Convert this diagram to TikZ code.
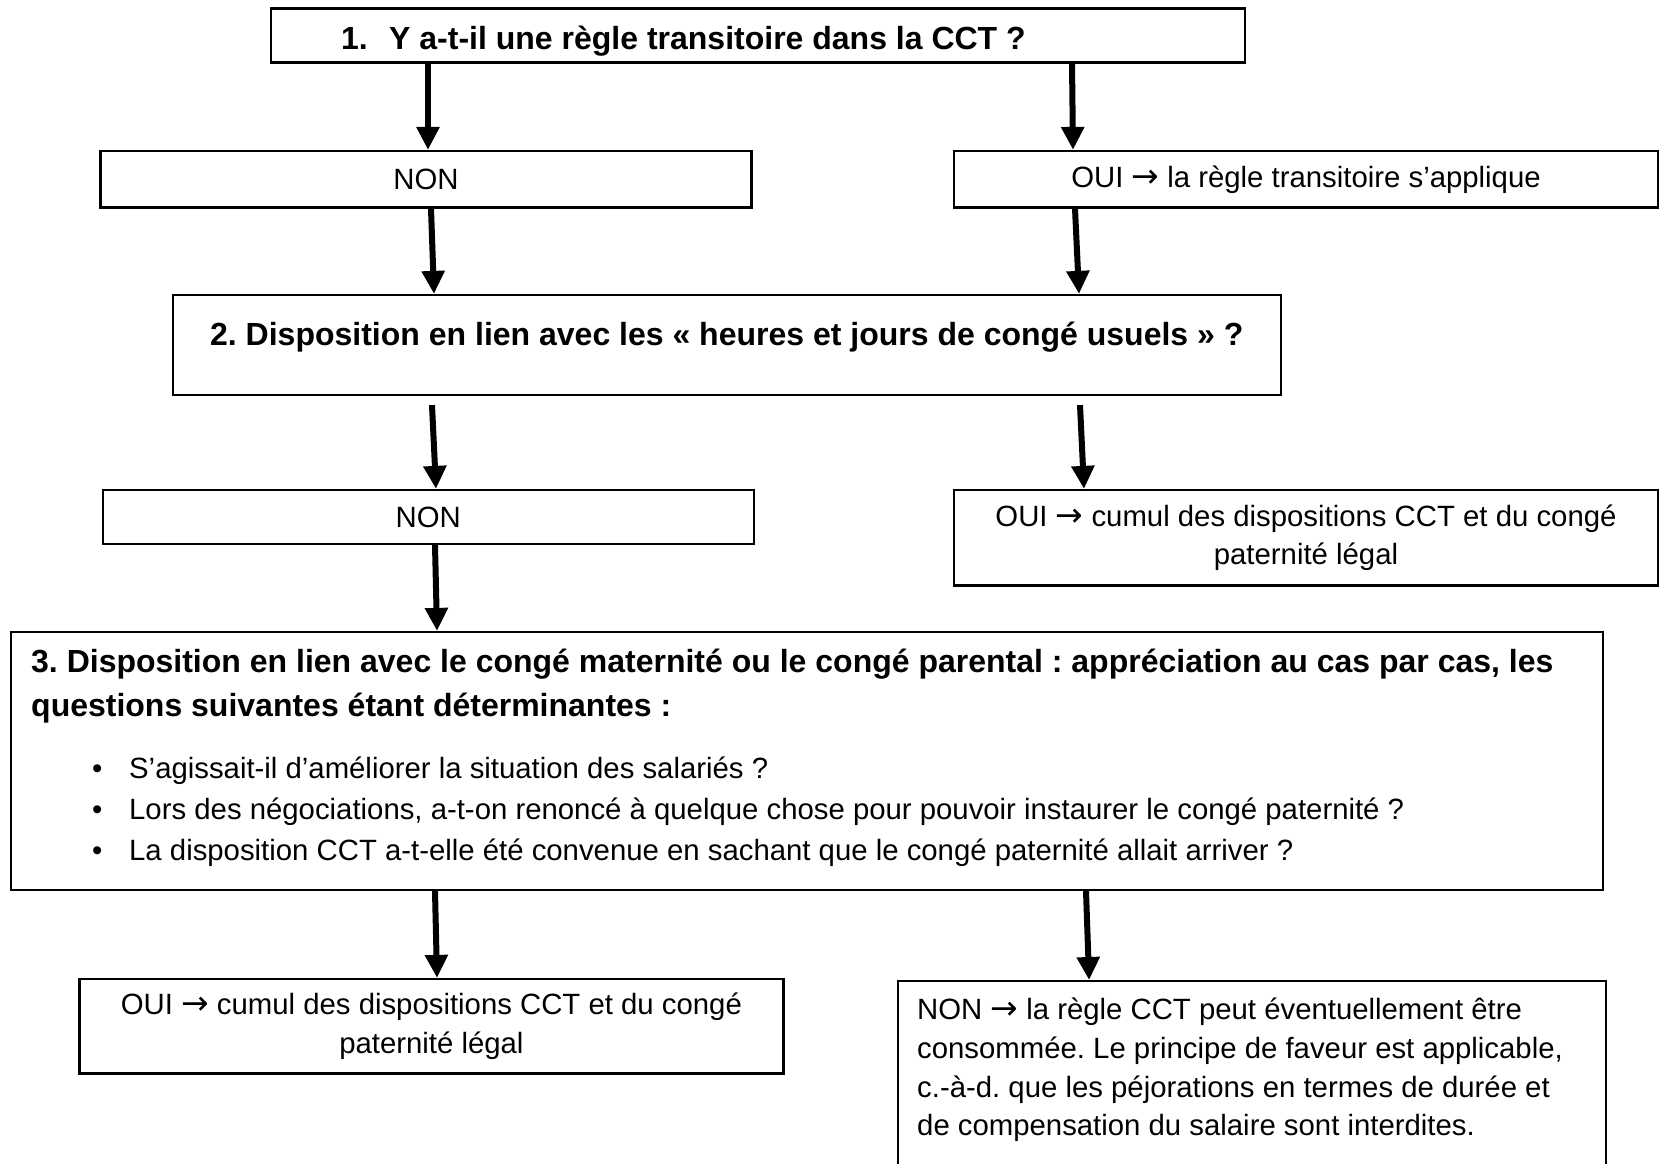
\documentclass[tikz,border=0pt]{standalone}
\usepackage{fontspec}
\setmainfont{Liberation Sans}
\newfontfamily\arrfont{DejaVu Sans}
\newcommand{\rarr}{{\arrfont\fontsize{33}{38.8}\selectfont →}}
\usetikzlibrary{arrows.meta}
\begin{document}
\frenchspacing
\begin{tikzpicture}[x=1pt,y=-1pt,
  box/.style={draw=black, line width=2.2pt, rectangle, inner sep=0pt},
  arr/.style={line width=6pt, -{Triangle[width=22pt,length=23pt]}},
  reg/.style={font=\fontsize{29.33}{38.8}\selectfont, inner sep=0pt},
  bld/.style={font=\fontsize{32}{43.3}\selectfont\bfseries, inner sep=0pt}]
\useasboundingbox (0,0) rectangle (1660,1163);
\fill[white] (0,0) rectangle (1660,1163);
\begin{scope}
\clip (0,0) rectangle (1660,1163);
% boxes
\node[box, minimum width=974pt, minimum height=54pt] (b1) at (758,35.5) {};
\node[bld, anchor=base west] (t1) at (341,49) {\makebox[48pt][l]{1.}Y a-t-il une règle transitoire dans la CCT ?};
\node[box, reg, minimum width=651pt, minimum height=56.5pt] (n1) at (426,179.25) {NON};
\node[box, reg, minimum width=704pt, minimum height=56.5pt] (o1) at (1306,179.25) {OUI \rarr{} la règle transitoire s’applique};
\node[box, minimum width=1108.4pt, minimum height=100pt] (b2) at (726.8,345) {};
\node[bld, anchor=base] (t2) at (726.8,345.5) {2. Disposition en lien avec les «~heures et jours de congé usuels~» ?};
\node[box, reg, minimum width=651pt, minimum height=54pt] (n2) at (428.25,517) {NON};
\node[box, reg, align=center, minimum width=704pt, minimum height=95.5pt] (o2) at (1306,537.75) {OUI \rarr{} cumul des dispositions CCT et du congé\\paternité légal};
\node[box, minimum width=1592.4pt, minimum height=258pt] (b3) at (806.8,761) {};
\node[bld, anchor=base west] (t3a) at (31,672.7) {3. Disposition en lien avec le congé maternité ou le congé parental : appréciation au cas par cas, les};
\node[bld, anchor=base west] (t3b) at (31,716) {questions suivantes étant déterminantes :};
\node[reg, anchor=base west] (q1) at (92,778) {\makebox[37pt][l]{•}S’agissait-il d’améliorer la situation des salariés ?};
\node[reg, anchor=base west] (q2) at (92,819.5) {\makebox[37pt][l]{•}Lors des négociations, a-t-on renoncé à quelque chose pour pouvoir instaurer le congé paternité ?};
\node[reg, anchor=base west] (q3) at (92,860.5) {\makebox[37pt][l]{•}La disposition CCT a-t-elle été convenue en sachant que le congé paternité allait arriver ?};
\node[box, reg, align=center, minimum width=704pt, minimum height=94.5pt] (o3) at (431.4,1026.25) {OUI \rarr{} cumul des dispositions CCT et du congé\\paternité légal};
\node[box, minimum width=708.3pt, minimum height=240pt, anchor=north west] (n3) at (896.7,980) {};
\node[reg, anchor=base west] (r1) at (917,1019.5) {NON \rarr{} la règle CCT peut éventuellement être};
\node[reg, anchor=base west] (r2) at (917,1058.3) {consommée. Le principe de faveur est applicable,};
\node[reg, anchor=base west] (r3) at (917,1097.1) {c.-à-d. que les péjorations en termes de durée et};
\node[reg, anchor=base west] (r4) at (917,1135.9) {de compensation du salaire sont interdites.};
% arrows
\draw[arr] ([xshift=-330pt]b1.south) -- ([xshift=2pt]n1.north);
\draw[arr] ([xshift=314pt]b1.south) -- ([xshift=-233pt]o1.north);
\draw[arr] ([xshift=5pt]n1.south) -- ([xshift=-292.8pt]b2.north);
\draw[arr] ([xshift=-231pt]o1.south) -- ([xshift=352.2pt]b2.north);
\draw[arr] ([shift={(-294.8pt,-9pt)}]b2.south) -- ([xshift=7.75pt]n2.north);
\draw[arr] ([shift={(353.2pt,-9pt)}]b2.south) -- ([xshift=-222pt]o2.north);
\draw[arr] ([xshift=6.75pt]n2.south) -- ([xshift=-369.8pt]b3.north);
\draw[arr] ([xshift=-371.8pt]b3.south) -- ([xshift=5.6pt]o3.north);
\draw[arr] ([xshift=279.2pt]b3.south) -- ([xshift=-162.85pt]n3.north);
\end{scope}
\end{tikzpicture}
\end{document}
